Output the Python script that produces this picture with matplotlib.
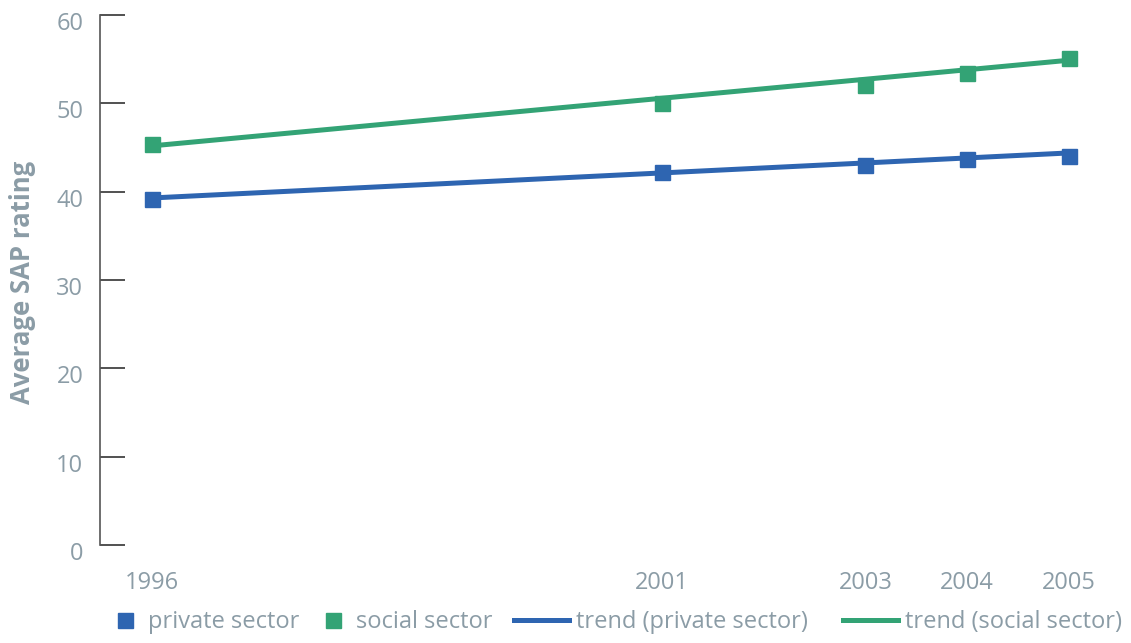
import matplotlib.pyplot as plt
from matplotlib.lines import Line2D
from matplotlib.transforms import ScaledTranslation

# data
years = [1996, 2001, 2003, 2004, 2005]
private_sector = [39.2, 42.2, 43.0, 43.7, 44.1]
social_sector = [45.4, 50.1, 52.1, 53.5, 55.2]

trend_years = [1996, 2005]
trend_private = [39.3, 44.4]
trend_social = [45.2, 54.9]

y_ticks = [0, 10, 20, 30, 40, 50, 60]

BLUE = "#2E65B1"
GREEN = "#33A375"
GREY = "#8B9CA6"

plt.rcParams['font.family'] = ['Open Sans', 'DejaVu Sans']

fig = plt.figure(figsize=(11.31, 6.43), dpi=100)
ax = fig.add_axes([0.0884, 0.1524, 0.884, 0.824])

# trend lines
ax.plot(trend_years, trend_private, color=BLUE, lw=3.6, solid_capstyle='butt', zorder=2)
ax.plot(trend_years, trend_social, color=GREEN, lw=3.6, solid_capstyle='butt', zorder=2)

# sector markers
ax.plot(years, private_sector, ls='none', marker='s', ms=10.8, color=BLUE, zorder=3)
ax.plot(years, social_sector, ls='none', marker='s', ms=10.8, color=GREEN, zorder=3)

ax.set_xlim(1995.49, 2005.3)
ax.set_ylim(0, 60)
ax.set_xticks(years)
ax.set_xticklabels([str(y) for y in years])
ax.set_yticks(y_ticks)

for side in ['top', 'right', 'bottom']:
    ax.spines[side].set_visible(False)
ax.spines['left'].set_color('#555555')
ax.spines['left'].set_linewidth(1.2)

ax.tick_params(axis='y', direction='in', length=18, width=1.2, color='#333333',
               labelsize=17, labelcolor=GREY, pad=12)
ax.tick_params(axis='x', length=0, labelsize=17, labelcolor=GREY, pad=19)

# labels sit a little lower than their ticks in the original
shift = ScaledTranslation(0, -6 / 100, fig.dpi_scale_trans)
for lab in ax.get_yticklabels():
    lab.set_transform(lab.get_transform() + shift)

ax.set_ylabel("Average SAP rating", fontsize=18.5, fontweight='bold', color=GREY)
ax.yaxis.set_label_coords(-0.064, 0.496)

# legend: one small legend per entry so the uneven spacing can be kept
entries = [
    (Line2D([], [], ls='none', marker='s', ms=10.8, color=BLUE), "private sector", 1.0, 0.47, 113),
    (Line2D([], [], ls='none', marker='s', ms=10.8, color=GREEN), "social sector", 1.0, 0.47, 321),
    (Line2D([], [], color=BLUE, lw=3.6), "trend (private sector)", 2.33, 0.3, 514),
    (Line2D([], [], color=GREEN, lw=3.6), "trend (social sector)", 2.33, 0.3, 843),
]
for handle, label, hlen, hpad, x_px in entries:
    leg = fig.legend([handle], [label], loc='center left',
                     bbox_to_anchor=(x_px / 1131, 0.033), frameon=False,
                     fontsize=17, handlelength=hlen, handletextpad=hpad,
                     borderpad=0, borderaxespad=0)
    for t in leg.get_texts():
        t.set_color(GREY)

fig.savefig("out.png", dpi=100)
